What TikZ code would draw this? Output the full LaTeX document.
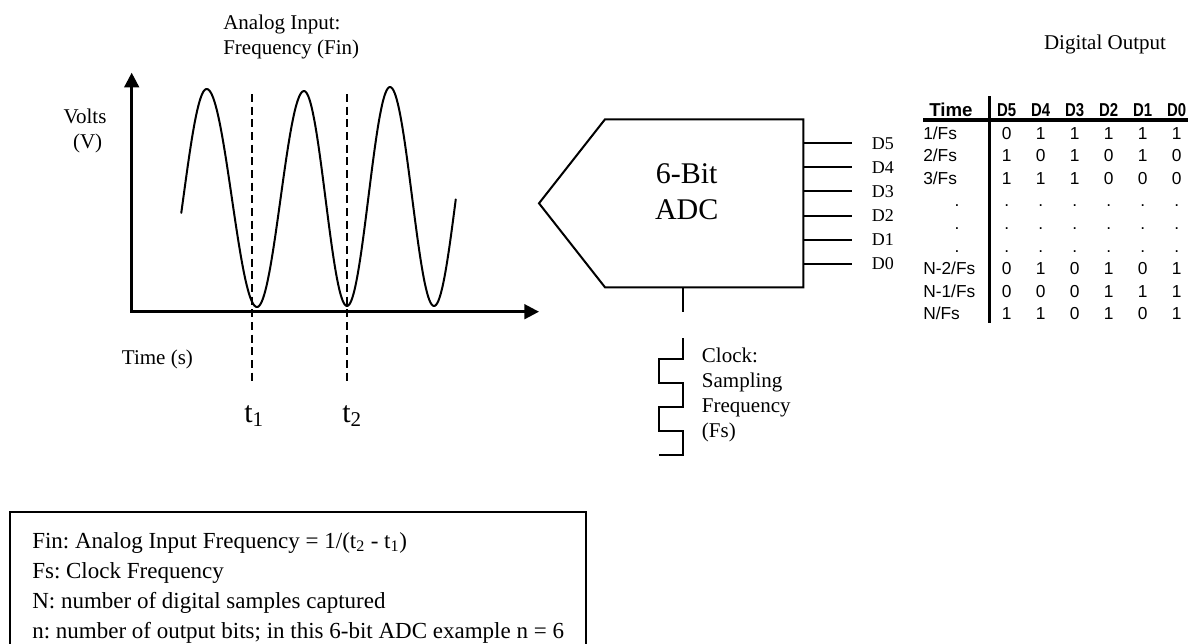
\documentclass[tikz,border=0pt]{standalone}
\usepackage{fontspec}
\setmainfont{Liberation Serif}
\newfontfamily\tablefont{Liberation Sans}
\frenchspacing
\usetikzlibrary{calc, shapes, fit, arrows.meta}

\tikzset{
  plaintext/.style = {inner sep=0pt, align=left, font=\fontsize{15.75}{18.75}\selectfont},
  bigtext/.style = {inner sep=0pt, align=center, font=\fontsize{22.5}{27}\selectfont},
  pintext/.style = {inner sep=0pt, anchor=west, font=\fontsize{13.5}{16}\selectfont},
  celltext/.style = {inner sep=0pt, anchor=base, font=\tablefont\fontsize{13}{15}\selectfont},
  headtext/.style = {inner sep=0pt, anchor=base, font=\tablefont\bfseries\fontsize{14}{16}\selectfont},
  legendtext/.style = {inner sep=0pt, align=left, anchor=west, font=\fontsize{17.25}{22.5}\selectfont},
  axis/.style = {line width=2pt, {Triangle[length=11pt,width=11pt]}-{Triangle[length=11pt,width=11pt]}},
  signal/.style = {line width=1.5pt, line cap=round},
  marker/.style = {line width=1.2pt, dash pattern=on 6pt off 3.5pt},
  body/.style = {line width=1.5pt, line join=miter},
  thickrule/.style = {line width=2.6pt}
}

\begin{document}
\begin{tikzpicture}[x=0.75pt, y=-0.75pt]
  \useasboundingbox (0,0) rectangle (1188,643);
  \clip (0,0) rectangle (1188,643);

  % analog input
  \node (fin) [plaintext, anchor=west] at (223,36.7) {Analog Input:\\Frequency (Fin)};
  \node (volts) [plaintext, align=center] at (85,130.5) {Volts\\\ (V)};
  \node (time) [plaintext, anchor=west] at (121.7,359.3) {Time (s)};

  \coordinate (O) at (131.7,311.7);
  \draw [axis] (131.7,72.7) -- (O) -- (539,311.7);

  \foreach \xa/\ya/\xb/\yb/\lo/\hi in {160/306.5/206.7/89/82/180, 206.7/89/257/307/0/180,
      257/307/304/91/0/180, 304/91/347/306/0/180, 347/306/390/87/0/180,
      390/87/434/306/0/180, 434/306/478/89/0/89}
    \draw [signal] plot [domain=\lo:\hi, samples=40]
      ({\xa+(\xb-\xa)*\x/180}, {(\ya+\yb)/2+(\ya-\yb)/2*cos(\x)});

  \node (t1) [bigtext] at (254,416) {t\textsubscript{1}};
  \node (t2) [bigtext] at (352,416) {t\textsubscript{2}};
  \coordinate (m1) at (251.7,94);
  \coordinate (m2) at (347,94);
  \draw [marker] (m1) -- ++(0,289);
  \draw [marker] (m2) -- ++(0,289);

  % converter
  \draw [body] (539,203.3) -- (605,119.3) -- (803.3,119.3) -- (803.3,287.3) -- (605,287.3) -- cycle;
  \node (adc) [bigtext] at (686.7,192) {6-Bit\\ADC};
  \foreach \bit/\y in {5/143.3, 4/167.3, 3/191.3, 2/215.5, 1/239.5, 0/263.7} {
    \coordinate (p\bit) at (803.3,\y);
    \node (d\bit) [pintext] at (871.7,\y) {D\bit};
    \draw [body] (p\bit) -- ++(48.4,0);
  }

  % clock
  \coordinate (clk) at (683.3,287.3);
  \draw [body] (clk) -- ++(0,24.4);
  \draw [body] (683.3,338) -- ++(0,21) -- ++(-24,0) -- ++(0,24) -- ++(24,0) -- ++(0,24)
    -- ++(-24,0) -- ++(0,24) -- ++(24,0) -- ++(0,24) -- ++(-24,0);
  \node (clock) [plaintext, anchor=west] at (701.7,394.5) {Clock:\\Sampling\\Frequency\\(Fs)};

  % digital output table
  \node (dout) [plaintext] at (1105,44) {Digital Output};
  \node (thead) [headtext, anchor=base west] at (929,116.5) {Time};
  \foreach \bit [count=\c from 0] in {5,4,3,2,1,0}
    \node (h\bit) [headtext, xscale=0.8, transform shape] at (1006.7+34*\c,116.5) {D\bit};
  \foreach \lbl/\bits [count=\r from 0] in {{1/Fs}/{0,1,1,1,1,1}, {2/Fs}/{1,0,1,0,1,0},
      {3/Fs}/{1,1,1,0,0,0}, {N-2/Fs}/{0,1,0,1,0,1}, {N-1/Fs}/{0,0,0,1,1,1},
      {N/Fs}/{1,1,0,1,0,1}} {
    \pgfmathsetmacro\ry{\r<3 ? 139+22.6*\r : 139+22.6*(\r+3)}
    \node (row\r) [celltext, anchor=base west] at (923,\ry) {\lbl};
    \foreach \b [count=\c from 0] in \bits
      \node (c\r-\c) [celltext] at (1006.7+34*\c,\ry) {\b};
  }
  \foreach \r in {3,4,5} {
    \node (gap\r) [celltext] at (957,139+22.6*\r) {.};
    \foreach \c in {0,...,5}
      \node (g\r-\c) [celltext] at (1006.7+34*\c,139+22.6*\r) {.};
  }
  \draw [thickrule] (989.3,96) -- (989.3,323);
  \draw [thickrule] (923.3,120) -- (1188,120);

  % legend
  \node (legend) [legendtext] at (32,587.5) {Fin: Analog Input Frequency = 1/(t\textsubscript{2} - t\textsubscript{1})\\
    Fs: Clock Frequency\\
    N: number of digital samples captured\\
    n: number of output bits; in this 6-bit ADC example n = 6};
  \node [fit=(legend), draw, line width=1.5pt, inner xsep=16.5pt, inner ysep=15pt] {};
\end{tikzpicture}
\end{document}
